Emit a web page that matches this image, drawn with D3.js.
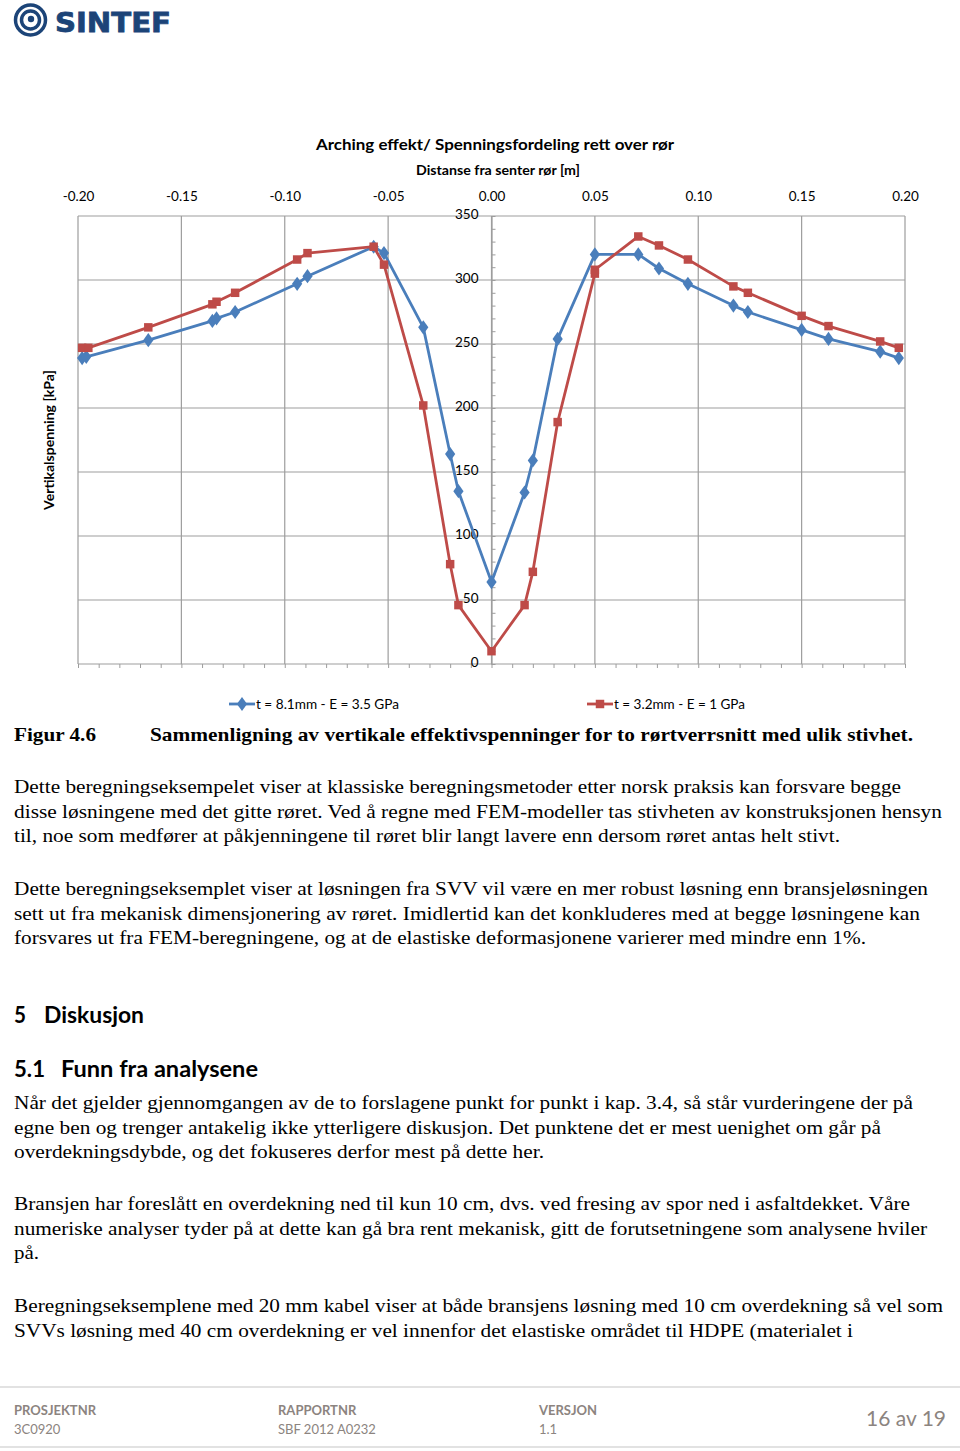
<!DOCTYPE html>
<html><head><meta charset="utf-8">
<script src="https://cdn.jsdelivr.net/npm/d3@7"></script>
<style>
html,body{margin:0;padding:0;background:#fff;}
svg{display:block;}
</style></head>
<body>
<script>
// ---- data ----
const xTicks = [-0.20,-0.15,-0.10,-0.05,0.00,0.05,0.10,0.15,0.20];
const xTickLabels = ["-0.20","-0.15","-0.10","-0.05","0.00","0.05","0.10","0.15","0.20"];
const yTicks = [0,50,100,150,200,250,300,350];
const blueName = "t = 8.1mm - E = 3.5 GPa";
const blueX = [-0.198,-0.196,-0.166,-0.135,-0.133,-0.124,-0.094,-0.089,-0.057,-0.052,-0.033,-0.020,-0.016,0.000,0.016,0.020,0.032,0.050,0.071,0.081,0.095,0.117,0.124,0.150,0.163,0.188,0.197];
const blueY = [239,240,253,268,270,275,297,303,326,321,263,164,135,64,134,159,254,320,320,309,297,280,275,261,254,244,239];
const redName = "t = 3.2mm - E = 1 GPa";
const redX = [-0.198,-0.195,-0.166,-0.135,-0.133,-0.124,-0.094,-0.089,-0.057,-0.052,-0.033,-0.020,-0.016,0.000,0.016,0.020,0.032,0.050,0.050,0.071,0.081,0.095,0.117,0.124,0.150,0.163,0.188,0.197];
const redY = [247,247,263,281,283,290,316,321,326,312,202,78,46,10,46,72,189,305,308,334,327,316,295,290,272,264,252,247];

const W = 960, H = 1451;
const svg = d3.select("body").append("svg").attr("width", W).attr("height", H);
const calibri = "Lato, 'Open Sans', sans-serif";
const times = "'Liberation Serif', 'Times New Roman', serif";

// ---- logo ----
const logo = svg.append("g");
logo.append("circle").attr("cx",30.5).attr("cy",20).attr("r",15).attr("fill","none").attr("stroke","#1c4478").attr("stroke-width",3.5);
logo.append("circle").attr("cx",30.5).attr("cy",20).attr("r",9).attr("fill","none").attr("stroke","#1c4478").attr("stroke-width",3.5);
logo.append("circle").attr("cx",31).attr("cy",19).attr("r",3.2).attr("fill","#1c4478");
logo.append("text").attr("x",55).attr("y",32).attr("font-family","'DejaVu Sans', sans-serif").attr("font-weight","bold")
  .attr("font-size",27).attr("fill","#1c4478").attr("stroke","#1c4478").attr("stroke-width",0.8)
  .attr("textLength",116).attr("lengthAdjust","spacingAndGlyphs").text("SINTEF");

// ---- chart ----
const x = d3.scaleLinear().domain([-0.20,0.20]).range([78,905]);
const y = d3.scaleLinear().domain([0,350]).range([664,216]);
const grid = "#9d9d9d";

const g = svg.append("g");
// vertical gridlines
g.selectAll(".vg").data(xTicks).join("line")
  .attr("x1",d=>x(d)).attr("x2",d=>x(d)).attr("y1",y(350)).attr("y2",y(0))
  .attr("stroke",grid).attr("stroke-width",1.2);
// horizontal gridlines
g.selectAll(".hg").data(yTicks).join("line")
  .attr("x1",x(-0.20)).attr("x2",x(0.20)).attr("y1",d=>y(d)).attr("y2",d=>y(d))
  .attr("stroke",grid).attr("stroke-width",1.2);

// bottom minor ticks
const bottomAx = g.append("g").attr("transform",`translate(0,${y(0)})`)
  .call(d3.axisBottom(x).tickValues(d3.range(-20,21).map(v=>v/100)).tickSize(4).tickFormat(""));
bottomAx.select(".domain").remove();
bottomAx.selectAll("line").attr("stroke",grid);

// top labels
const topAx = g.append("g").attr("transform","translate(0,201)")
  .call(d3.axisTop(x).tickValues(xTicks).tickSize(0).tickPadding(0).tickFormat((d,i)=>xTickLabels[i]));
topAx.select(".domain").remove();
topAx.selectAll("text").attr("font-family",calibri).attr("font-size",13.5).attr("fill","#000");

// y axis at x=0
const yAx = g.append("g").attr("transform",`translate(${x(0)},0)`)
  .call(d3.axisLeft(y).tickValues(yTicks).tickSize(0).tickPadding(13));
yAx.select(".domain").attr("stroke",grid).attr("stroke-width",1.2);
yAx.selectAll("text").attr("font-family",calibri).attr("font-size",13.5).attr("fill","#000").attr("dy","0.2em");
const yMin = g.append("g").attr("transform",`translate(${x(0)},0)`)
  .call(d3.axisRight(y).tickValues(d3.range(0,351,10)).tickSize(4).tickFormat(""));
yMin.select(".domain").remove();
yMin.selectAll("line").attr("stroke",grid);

// titles
svg.append("text").attr("x",495).attr("y",150).attr("text-anchor","middle").attr("font-family",calibri)
  .attr("font-weight","bold").attr("font-size",16).attr("textLength",358).attr("lengthAdjust","spacingAndGlyphs")
  .text("Arching effekt/ Spenningsfordeling rett over rør");
svg.append("text").attr("x",498).attr("y",175).attr("text-anchor","middle").attr("font-family",calibri)
  .attr("font-weight","bold").attr("font-size",13).attr("textLength",164).attr("lengthAdjust","spacingAndGlyphs")
  .text("Distanse fra senter rør [m]");
svg.append("text").attr("transform","translate(54,440) rotate(-90)").attr("text-anchor","middle").attr("font-family",calibri)
  .attr("font-weight","bold").attr("font-size",13).attr("textLength",140).attr("lengthAdjust","spacingAndGlyphs")
  .text("Vertikalspenning [kPa]");

// series
const blue = "#4a7ebb", red = "#be4b48";
function drawSeries(xs, ys, color, shape) {
  const pts = xs.map((v,i)=>[v, ys[i]]);
  g.append("path").datum(pts).attr("fill","none").attr("stroke",color).attr("stroke-width",2.8)
    .attr("stroke-linejoin","round").attr("d", d3.line().x(d=>x(d[0])).y(d=>y(d[1])));
  const sym = d3.symbol().type(shape).size(shape===d3.symbolSquare ? 72 : 58);
  g.selectAll(null).data(pts).join("path").attr("d",sym)
    .attr("transform",d=>`translate(${x(d[0])},${y(d[1])})${shape===d3.symbolDiamond?" scale(1.25,1)":""}`)
    .attr("fill",color);
}
drawSeries(blueX, blueY, blue, d3.symbolDiamond);
drawSeries(redX, redY, red, d3.symbolSquare);

// legend
function legend(x0, color, shape, name, len) {
  const lg = svg.append("g");
  lg.append("line").attr("x1",x0).attr("x2",x0+26).attr("y1",704).attr("y2",704).attr("stroke",color).attr("stroke-width",2.8);
  lg.append("path").attr("d",d3.symbol().type(shape).size(shape===d3.symbolSquare?72:58)())
    .attr("transform",`translate(${x0+13},704)${shape===d3.symbolDiamond?" scale(1.25,1)":""}`).attr("fill",color);
  lg.append("text").attr("x",x0+27).attr("y",709).attr("font-family",calibri).attr("font-size",13)
    .attr("textLength",len).attr("lengthAdjust","spacingAndGlyphs").text(name);
}
legend(229, blue, d3.symbolDiamond, blueName, 143);
legend(587, red, d3.symbolSquare, redName, 131);

// caption
svg.append("text").attr("x",14).attr("y",741).attr("font-family",times).attr("font-weight","bold").attr("font-size",19.5)
  .attr("textLength",82).attr("lengthAdjust","spacingAndGlyphs").text("Figur 4.6");
svg.append("text").attr("x",150).attr("y",741).attr("font-family",times).attr("font-weight","bold").attr("font-size",19.5)
  .attr("textLength",763).attr("lengthAdjust","spacingAndGlyphs")
  .text("Sammenligning av vertikale effektivspenninger for to rørtverrsnitt med ulik stivhet.");

// body text
const paras = [
  {y:793, lines:[
    ["Dette beregningseksempelet viser at klassiske beregningsmetoder etter norsk praksis kan forsvare begge",887],
    ["disse løsningene med det gitte røret. Ved å regne med FEM-modeller tas stivheten av konstruksjonen hensyn",928],
    ["til, noe som medfører at påkjenningene til røret blir langt lavere enn dersom røret antas helt stivt.",826]]},
  {y:895, lines:[
    ["Dette beregningseksemplet viser at løsningen fra SVV vil være en mer robust løsning enn bransjeløsningen",914],
    ["sett ut fra mekanisk dimensjonering av røret.  Imidlertid kan det konkluderes med at begge løsningene kan",906],
    ["forsvares ut fra FEM-beregningene, og at de elastiske deformasjonene varierer med mindre enn 1%.",852]]},
  {y:1109, lines:[
    ["Når det gjelder gjennomgangen av de to forslagene punkt for punkt i kap. 3.4, så står vurderingene der på",899],
    ["egne ben og trenger antakelig ikke ytterligere diskusjon. Det punktene det er mest uenighet om går på",867],
    ["overdekningsdybde, og det fokuseres derfor mest på dette her.",530]]},
  {y:1210, lines:[
    ["Bransjen har foreslått en overdekning ned til kun 10 cm, dvs. ved fresing av spor ned i asfaltdekket. Våre",896],
    ["numeriske analyser tyder på at dette kan gå bra rent mekanisk, gitt de forutsetningene som analysene hviler",913],
    ["på.",25]]},
  {y:1312, lines:[
    ["Beregningseksemplene med 20 mm kabel viser at både bransjens løsning med 10 cm overdekning så vel som",929],
    ["SVVs løsning med 40 cm overdekning er vel innenfor det elastiske området til HDPE (materialet i",839]]}
];
paras.forEach(p=>{
  p.lines.forEach((l,i)=>{
    svg.append("text").attr("x",14).attr("y",p.y+i*24.5).attr("font-family",times).attr("font-size",19.5)
      .attr("textLength",l[1]).attr("lengthAdjust","spacingAndGlyphs").text(l[0]);
  });
});

// headings
function heading(xp, yp, txt, len) {
  svg.append("text").attr("x",xp).attr("y",yp).attr("font-family",calibri).attr("font-weight","bold").attr("font-size",22.5)
    .attr("textLength",len).attr("lengthAdjust","spacingAndGlyphs").text(txt);
}
heading(14,1023,"5",12);
heading(44,1023,"Diskusjon",100);
heading(14,1077,"5.1",31);
heading(61,1077,"Funn fra analysene",197);

// footer
svg.append("line").attr("x1",0).attr("x2",960).attr("y1",1387).attr("y2",1387).attr("stroke","#d9d9d9").attr("stroke-width",1.5);
svg.append("line").attr("x1",0).attr("x2",960).attr("y1",1447).attr("y2",1447).attr("stroke","#d9d9d9").attr("stroke-width",1.5);
const foot = [["PROSJEKTNR","3C0920",14],["RAPPORTNR","SBF 2012 A0232",278],["VERSJON","1.1",539]];
foot.forEach(f=>{
  svg.append("text").attr("x",f[2]).attr("y",1415).attr("font-family",calibri).attr("font-weight","bold").attr("font-size",13).attr("fill","#8c8480").text(f[0]);
  svg.append("text").attr("x",f[2]).attr("y",1434).attr("font-family",calibri).attr("font-size",13).attr("fill","#8c8480").text(f[1]);
});
svg.append("text").attr("x",946).attr("y",1426).attr("text-anchor","end").attr("font-family",calibri).attr("font-size",21).attr("fill","#8c8480").text("16 av 19");
</script>
</body></html>
